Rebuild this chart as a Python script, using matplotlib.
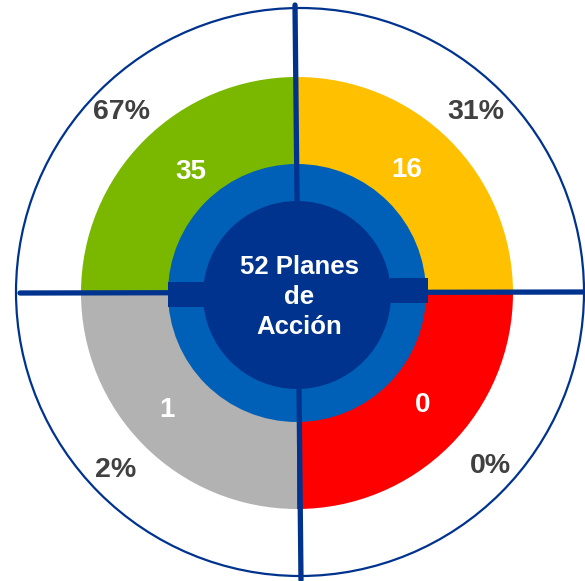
import matplotlib.pyplot as plt
from matplotlib.patches import Wedge, Circle, Rectangle

plt.rcParams['font.family'] = ['Liberation Sans', 'DejaVu Sans']

# datos
estados = ['Verde', 'Amarillo', 'Rojo', 'Gris']
planes = [35, 16, 0, 1]
porcentajes = ['67%', '31%', '0%', '2%']
total = 52
colores = ['#7AB800', '#FFC000', '#FF0000', '#B2B2B2']

azul_osc = '#00338E'
azul_med = '#0060B8'

fig = plt.figure(figsize=(5.85, 5.81), dpi=100)
ax = fig.add_axes([0, 0, 1, 1])
ax.set_xlim(0, 585)
ax.set_ylim(581, 0)
ax.set_aspect('equal')
ax.axis('off')

cx, cy = 297, 293

# circulo exterior
ax.add_patch(Circle((300, 292), 284, fill=False, edgecolor=azul_osc, linewidth=1.6, zorder=1))

# cuadrantes (angulos en pantalla con eje y invertido)
angulos = [(180, 270), (270, 360), (0, 90), (90, 180)]
for (a1, a2), c in zip(angulos, colores):
    ax.add_patch(Wedge((cx, cy), 216, a1, a2, facecolor=c, edgecolor='none', zorder=2))

# anillo
ax.add_patch(Circle((cx, cy), 129, facecolor=azul_med, edgecolor='none', zorder=3))

# cruz
ax.plot([20, 585], [293, 292], color=azul_osc, linewidth=3.8, solid_capstyle='round', zorder=4)
ax.plot([295, 301], [5, 580], color=azul_osc, linewidth=3.8, solid_capstyle='round', zorder=4)

# rectangulos en el anillo
ax.add_patch(Rectangle((168, 282), 36, 25, facecolor=azul_osc, edgecolor='none', zorder=5))
ax.add_patch(Rectangle((390, 278), 38, 25, facecolor=azul_osc, edgecolor='none', zorder=5))

# centro
ax.add_patch(Circle((cx, cy + 2), 94, facecolor=azul_osc, edgecolor='none', zorder=6))
ax.text(299, 297, f'{total} Planes\nde\nAcción', color='white', fontsize=18.5, fontweight='bold',
        ha='center', va='center', linespacing=1.3, zorder=7)

# etiquetas
pos_val = [(191, 172), (407, 170), (423, 405), (167, 410)]
pos_pct = [(122, 112), (476, 112), (490, 466), (116, 470)]
for v, p, pv, pp in zip(planes, porcentajes, pos_val, pos_pct):
    ax.text(pv[0], pv[1], str(v), color='white', fontsize=20, fontweight='bold',
            ha='center', va='center', zorder=7)
    ax.text(pp[0], pp[1], p, color='#404040', fontsize=20.5, fontweight='bold',
            ha='center', va='center', zorder=7)

plt.savefig('out.png', dpi=100)
